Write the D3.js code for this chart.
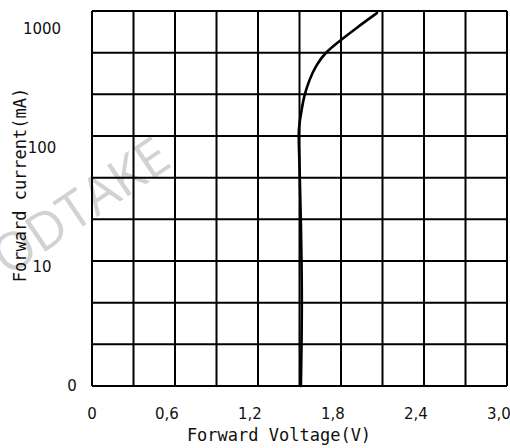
<!DOCTYPE html>
<html>
<head>
    <meta charset="utf-8">
    <title>Forward current vs forward voltage</title>
    <script src="https://d3js.org/d3.v7.min.js"></script>
    <style>
        * {
            margin: 0;
            padding: 0;
        }

        body {
            background: #fff;
        }

        #chart {
            width: 510px;
            height: 448px;
        }
    </style>
</head>
<body>
    <div id="chart"></div>

    <script>
        // curve: forward voltage (V) / forward current (mA)
        var voltage = [1.51, 1.52, 1.51, 1.50, 1.49, 1.51, 1.53, 1.57, 1.62, 1.69, 1.78, 1.92, 2.06];
        var current = [1, 5, 25, 80, 140, 188, 266, 369, 493, 634, 769, 1028, 1346];

        var xTicks = [0, 0.6, 1.2, 1.8, 2.4, 3.0];
        var xTickLabels = ["0", "0,6", "1,2", "1,8", "2,4", "3,0"];
        var yTicks = [1000, 100, 10, 1];
        var yTickLabels = ["1000", "100", "10", "0"];

        var width = 510, height = 448;
        var plot = { left: 92, right: 507, top: 11, bottom: 386 };

        var svg = d3.select("#chart")
            .append("svg")
            .attr("width", width)
            .attr("height", height);

        var x = d3.scaleLinear()
            .domain([0, 3])
            .range([plot.left, plot.right]);

        var y = d3.scaleLog()
            .domain([1, 1400])
            .range([plot.bottom, plot.top]);

        // horizontal grid is evenly spaced (9 rows), not tied to decades
        var row = d3.scaleLinear()
            .domain([0, 9])
            .range([plot.bottom, plot.top]);

        // watermark
        svg.append("text")
            .attr("transform", "translate(174,165) rotate(-34)")
            .attr("text-anchor", "end")
            .attr("font-family", "Open Sans, sans-serif")
            .attr("font-weight", 400)
            .attr("font-size", 52)
            .attr("fill", "#d2d2d2")
            .text("GOODTAKE");

        // grid
        var grid = svg.append("g")
            .attr("stroke", "#000")
            .attr("stroke-width", 2);

        grid.selectAll(".vline")
            .data(d3.range(0, 11))
            .enter()
            .append("line")
            .attr("x1", function (d) { return x(d * 0.3); })
            .attr("x2", function (d) { return x(d * 0.3); })
            .attr("y1", plot.top)
            .attr("y2", plot.bottom);

        grid.selectAll(".hline")
            .data(d3.range(0, 10))
            .enter()
            .append("line")
            .attr("x1", plot.left)
            .attr("x2", plot.right)
            .attr("y1", function (d) { return row(d); })
            .attr("y2", function (d) { return row(d); });

        // curve
        var points = voltage.map(function (v, i) { return [v, current[i]]; });
        var line = d3.line()
            .x(function (d) { return x(d[0]); })
            .y(function (d) { return y(d[1]); })
            .curve(d3.curveBasis);

        svg.append("path")
            .datum(points)
            .attr("fill", "none")
            .attr("stroke", "#000")
            .attr("stroke-width", 2.6)
            .attr("stroke-linecap", "round")
            .attr("d", line);

        // tick labels
        svg.append("g")
            .selectAll("text")
            .data(xTicks)
            .enter()
            .append("text")
            .attr("x", function (d, i) { return x(d) - (i > 0 ? 8 : 0); })
            .attr("y", 419)
            .attr("text-anchor", "middle")
            .attr("font-family", "DejaVu Sans, sans-serif")
            .attr("font-size", 15)
            .attr("fill", "#111")
            .text(function (d, i) { return xTickLabels[i]; });

        svg.append("g")
            .selectAll("text")
            .data(yTicks)
            .enter()
            .append("text")
            .attr("x", function (d, i) { return i == yTicks.length - 1 ? 72 : 42; })
            .attr("y", function (d) { return y(d); })
            .attr("dy", "0.36em")
            .attr("text-anchor", "middle")
            .attr("font-family", "DejaVu Sans, sans-serif")
            .attr("font-size", 15)
            .attr("fill", "#111")
            .text(function (d, i) { return yTickLabels[i]; });

        // axis titles
        svg.append("text")
            .attr("x", 279)
            .attr("y", 441)
            .attr("text-anchor", "middle")
            .attr("font-family", "DejaVu Sans Mono, monospace")
            .attr("font-size", 17)
            .attr("fill", "#111")
            .text("Forward Voltage(V)");

        svg.append("text")
            .attr("transform", "translate(26,185) rotate(-90)")
            .attr("text-anchor", "middle")
            .attr("font-family", "DejaVu Sans Mono, monospace")
            .attr("font-size", 17)
            .attr("fill", "#111")
            .text("Forward current(mA)");
    </script>
</body>
</html>
